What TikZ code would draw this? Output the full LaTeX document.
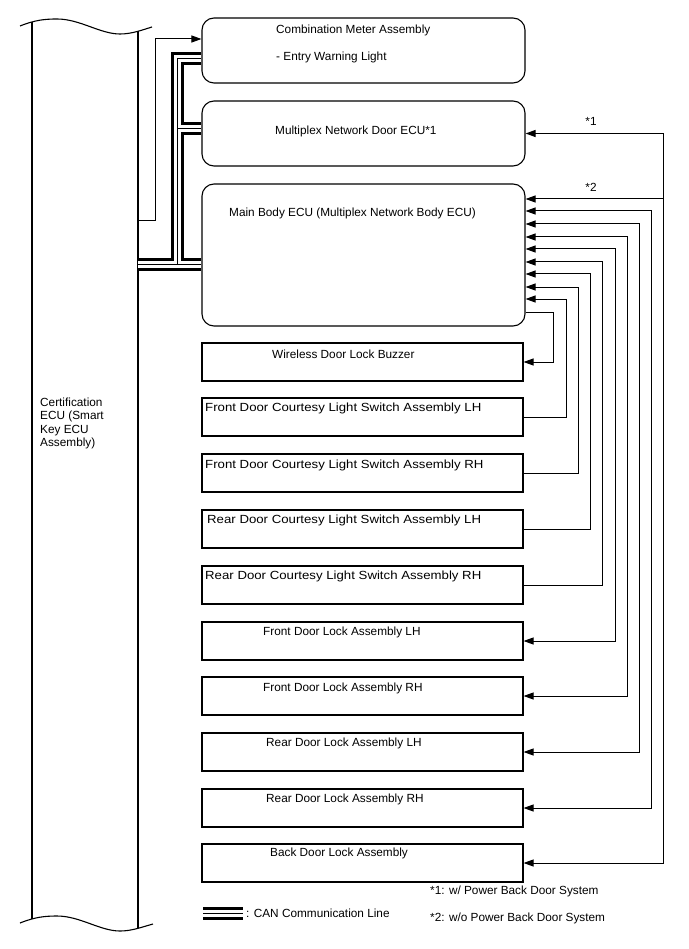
\documentclass[tikz,border=0pt]{standalone}
\usepackage{fontspec}
\setmainfont{Liberation Sans}
\usetikzlibrary{arrows.meta}
\begin{document}
\begin{tikzpicture}[x=1pt,y=-1pt,
  box/.style={draw, line width=1.1pt, inner sep=0pt, minimum width=321pt, minimum height=38pt},
  rbox/.style={box, rounded corners=12pt, minimum width=323pt},
  lbl/.style={anchor=west, inner sep=0pt, font=\fontsize{11.8}{13.5}\selectfont},
  wlbl/.style={lbl, font=\fontsize{11.8}{13.5}\addfontfeatures{FakeStretch=1.12}\selectfont},
  clbl/.style={inner sep=0pt, font=\fontsize{11.8}{13.5}\selectfont},
  conn/.style={line width=1pt, -{Triangle[length=10pt,width=7pt]}},
  conn2/.style={line width=1pt, {Triangle[length=10pt,width=7pt]}-{Triangle[length=10pt,width=7pt]}},
  canA/.style={line width=13pt, line join=miter},
  canB/.style={line width=7pt, white, line join=miter},
  canC/.style={line width=1pt},
  wavy/.style={line width=1.1pt},
]
\useasboundingbox (0,0) rectangle (688,949);

% Certification ECU column
\draw[wavy] (20,26) .. controls (35,20) and (45,19) .. (57,19) .. controls (80,19) and (100,34) .. (120,34) .. controls (132,34) and (142,30) .. (152,27);
\draw[wavy] (20,923) .. controls (35,917) and (45,916) .. (57,916) .. controls (80,916) and (100,931) .. (120,931) .. controls (132,931) and (142,927) .. (153,924);
\draw[wavy] (32,22) -- (32,919);
\draw[wavy] (138,31) -- (138,928);
\node[lbl, align=left] (cert) at (40,423.5) {Certification\\ECU (Smart\\Key ECU\\Assembly)};
\coordinate (ecuA) at (138,221);
\coordinate (ecuB) at (138,265);

% boxes
\node[rbox, minimum height=65pt] (cm) at (363.5,50.5) {};
\node[rbox, minimum height=65pt] (mnd) at (363.5,133.5) {};
\node[rbox, minimum height=142pt] (mb) at (363.5,255) {};
\node[box] (bz) at (362.5,362) {};
\node[box] (fcl) at (362.5,417) {};
\node[box] (fcr) at (362.5,473) {};
\node[box] (rcl) at (362.5,529) {};
\node[box] (rcr) at (362.5,585) {};
\node[box] (fll) at (362.5,641) {};
\node[box] (flr) at (362.5,696) {};
\node[box] (rll) at (362.5,752) {};
\node[box] (rlr) at (362.5,808) {};
\node[box] (bdl) at (362.5,863) {};

% texts
\node[lbl] (t1) at (276,30) {Combination Meter Assembly};
\node[lbl] (t1b) at (276,57) {- Entry Warning Light};
\node[lbl] (t2) at (275,131) {Multiplex Network Door ECU*1};
\node[lbl] (t3) at (229,213) {Main Body ECU (Multiplex Network Body ECU)};
\node[lbl] (t4) at (272,354) {Wireless Door Lock Buzzer};
\node[wlbl] (t5) at (205,408) {Front Door Courtesy Light Switch Assembly LH};
\node[wlbl] (t6) at (205,465) {Front Door Courtesy Light Switch Assembly RH};
\node[wlbl] (t7) at (207,520) {Rear Door Courtesy Light Switch Assembly LH};
\node[wlbl] (t8) at (205,576) {Rear Door Courtesy Light Switch Assembly RH};
\node[lbl] (t9) at (263,632) {Front Door Lock Assembly LH};
\node[lbl] (t10) at (263,688) {Front Door Lock Assembly RH};
\node[lbl] (t11) at (266,743) {Rear Door Lock Assembly LH};
\node[lbl] (t12) at (266,799) {Rear Door Lock Assembly RH};
\node[lbl] (t13) at (270,853) {Back Door Lock Assembly};

% CAN lines
\foreach \s in {canA,canB,canC} {
  \draw[\s] (ecuB) -- (mb.west |- 0,265);
  \draw[\s] (177,265) -- (177,59) -- (cm.west |- 0,59);
  \draw[\s] (177,128.5) -- (mnd.west |- 0,128.5);
}

% left thin connector
\draw[conn] (ecuA) -- (155,221) |- (cm.west |- 0,39);

% right side connectors
\draw[conn2] (mnd.east) -| (663,863) -- (bdl.east);
\coordinate (j2) at (663,199);
\draw[conn] (j2) -- (mb.east |- 0,199);
\draw[conn2] (mb.east |- 0,211) -| (651,808) -- (rlr.east);
\draw[conn2] (mb.east |- 0,224) -| (639,752) -- (rll.east);
\draw[conn2] (mb.east |- 0,237) -| (627,696) -- (flr.east);
\draw[conn2] (mb.east |- 0,249) -| (615,641) -- (fll.east);
\draw[conn] (rcr.east) -| (602,262) -- (mb.east |- 0,262);
\draw[conn] (rcl.east) -| (590,274) -- (mb.east |- 0,274);
\draw[conn] (fcr.east) -| (578,287) -- (mb.east |- 0,287);
\draw[conn] (fcl.east) -| (566,299) -- (mb.east |- 0,299);
\draw[conn] (mb.east |- 0,312) -| (553,362) -- (bz.east);

\node[clbl] (s1) at (591,121) {*1};
\node[clbl] (s2) at (591,187) {*2};

% legend
\foreach \s in {canA,canB,canC} {
  \draw[\s] (203,913) -- (243,913);
}
\node[lbl] (leg) at (246,913) {: CAN Communication Line};
\node[lbl] (n1) at (430,891) {*1: w/ Power Back Door System};
\node[lbl] (n2) at (430,918) {*2: w/o Power Back Door System};
\end{tikzpicture}
\end{document}
